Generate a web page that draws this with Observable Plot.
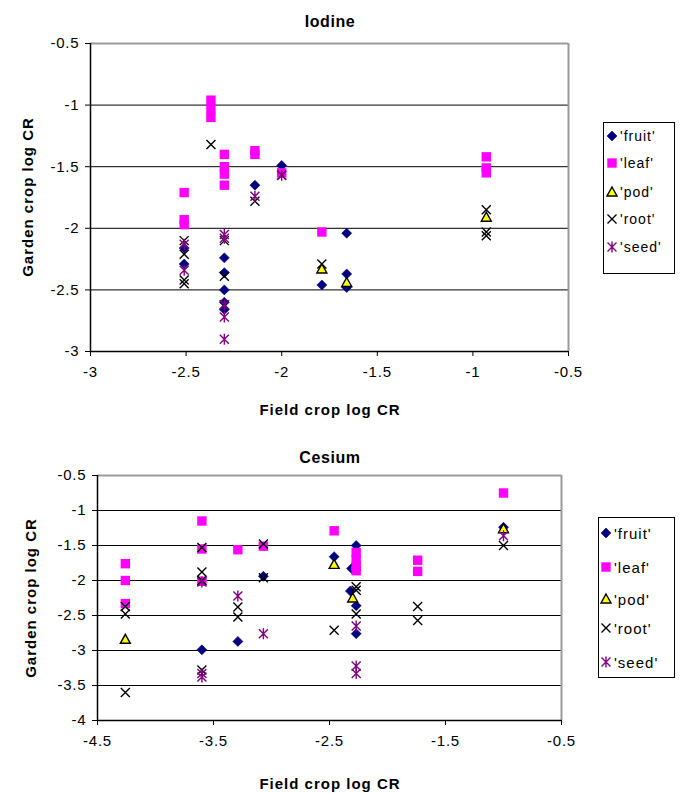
<!DOCTYPE html>
<html><head><meta charset="utf-8">
<script src="https://cdn.jsdelivr.net/npm/d3@7"></script>
<script src="https://cdn.jsdelivr.net/npm/@observablehq/plot@0.6"></script>
<style>
body{margin:0;background:#fff;font-family:"Liberation Sans",Arial,sans-serif;color:#000;}
#root{position:relative;width:681px;height:793px;overflow:hidden;background:#fff;}
.abs{position:absolute;white-space:nowrap;}
.ctr{transform:translate(-50%,-50%);}
.title{font-weight:bold;font-size:16px;letter-spacing:0.6px;}
.xlab{font-weight:bold;font-size:15px;letter-spacing:1px;}
.ylab{font-weight:bold;font-size:15px;letter-spacing:1px;transform:translate(-50%,-50%) rotate(-90deg);}
.legend{border:1px solid #000;background:#fff;}
.legend svg{display:block;}
#root svg.plot text{letter-spacing:0.8px;}
</style></head><body><div id="root"></div>
<script>
const seriesNames = ["'fruit'", "'leaf'", "'pod'", "'root'", "'seed'"];

// Iodine: [field crop log CR, garden crop log CR]
const iodineFruit = [[-2.51,-2.16],[-2.51,-2.29],[-2.30,-2.24],[-2.30,-2.36],[-2.30,-2.50],[-2.30,-2.60],[-2.30,-2.66],[-2.14,-1.65],[-2.00,-1.49],[-1.79,-2.46],[-1.66,-2.04],[-1.66,-2.37],[-1.66,-2.48]];
const iodineLeaf = [[-2.51,-1.71],[-2.51,-1.93],[-2.51,-1.97],[-2.37,-0.96],[-2.37,-1.03],[-2.37,-1.10],[-2.30,-1.40],[-2.30,-1.50],[-2.30,-1.56],[-2.30,-1.65],[-2.14,-1.37],[-2.14,-1.40],[-2.00,-1.55],[-1.79,-2.03],[-0.93,-1.42],[-0.93,-1.51],[-0.93,-1.55]];
const iodinePod = [[-1.79,-2.33],[-1.66,-2.44],[-0.93,-1.91]];
const iodineRoot = [[-2.51,-2.10],[-2.51,-2.21],[-2.51,-2.42],[-2.51,-2.45],[-2.37,-1.32],[-2.30,-2.10],[-2.30,-2.39],[-2.30,-2.62],[-2.14,-1.78],[-2.00,-1.57],[-1.79,-2.29],[-0.93,-1.85],[-0.93,-2.03],[-0.93,-2.06]];
const iodineSeed = [[-2.51,-2.13],[-2.51,-2.34],[-2.30,-2.05],[-2.30,-2.08],[-2.30,-2.62],[-2.30,-2.72],[-2.30,-2.90],[-2.14,-1.74],[-2.00,-1.57]];

// Cesium
const cesiumFruit = [[-3.60,-2.99],[-3.29,-2.87],[-3.07,-1.94],[-2.46,-1.66],[-2.27,-1.50],[-2.31,-1.83],[-2.32,-2.15],[-2.27,-2.36],[-2.27,-2.76],[-1.00,-1.24]];
const cesiumLeaf = [[-4.26,-1.76],[-4.26,-2.00],[-4.26,-2.33],[-3.60,-1.15],[-3.60,-1.55],[-3.60,-2.01],[-3.29,-1.56],[-3.07,-1.51],[-2.46,-1.29],[-2.27,-1.60],[-2.27,-1.70],[-2.27,-1.80],[-2.27,-1.86],[-1.74,-1.71],[-1.74,-1.87],[-1.00,-0.75]];
const cesiumPod = [[-4.26,-2.84],[-2.46,-1.77],[-2.30,-2.25],[-1.00,-1.26]];
const cesiumRoot = [[-4.26,-2.37],[-4.26,-2.48],[-4.26,-3.60],[-3.60,-1.53],[-3.60,-1.88],[-3.60,-2.00],[-3.60,-3.28],[-3.29,-2.38],[-3.29,-2.52],[-3.07,-1.48],[-3.07,-1.96],[-2.46,-2.71],[-2.27,-2.09],[-2.27,-2.14],[-2.27,-2.48],[-1.74,-2.37],[-1.74,-2.57],[-1.00,-1.50]];
const cesiumSeed = [[-3.60,-2.02],[-3.60,-3.33],[-3.60,-3.38],[-3.29,-2.22],[-3.07,-2.76],[-2.27,-2.65],[-2.27,-3.22],[-2.27,-3.33],[-1.00,-1.36]];

const iodineXTicks = [-3, -2.5, -2, -1.5, -1, -0.5];
const iodineYTicks = [-3, -2.5, -2, -1.5, -1, -0.5];
const cesiumXTicks = [-4.5, -3.5, -2.5, -1.5, -0.5];
const cesiumYTicks = [-4, -3.5, -3, -2.5, -2, -1.5, -1, -0.5];

// marker shapes (Excel-like)
const symDiamond = {draw(c){c.moveTo(0,-5);c.lineTo(5,0);c.lineTo(0,5);c.lineTo(-5,0);c.closePath();}};
const symSquare = {draw(c){c.moveTo(-4.7,-4.7);c.lineTo(4.7,-4.7);c.lineTo(4.7,4.7);c.lineTo(-4.7,4.7);c.closePath();}};
const symTri = {draw(c){c.moveTo(0,-5);c.lineTo(5,4);c.lineTo(-5,4);c.closePath();}};
const symX = {draw(c){c.moveTo(-4.5,-4.5);c.lineTo(4.5,4.5);c.moveTo(4.5,-4.5);c.lineTo(-4.5,4.5);}};
const symStar = {draw(c){c.moveTo(-4.5,-4.5);c.lineTo(4.5,4.5);c.moveTo(4.5,-4.5);c.lineTo(-4.5,4.5);c.moveTo(0,-5.5);c.lineTo(0,5.5);}};

const styles = [
  {symbol: symDiamond, fill: "#000080", stroke: "#000080", strokeWidth: 0.6},
  {symbol: symSquare, fill: "#FF00FF", stroke: "none", strokeWidth: 0},
  {symbol: symTri, fill: "#FFFF00", stroke: "#000000", strokeWidth: 1.4},
  {symbol: symX, fill: "none", stroke: "#000000", strokeWidth: 1.4},
  {symbol: symStar, fill: "none", stroke: "#800080", strokeWidth: 1.4}
];

const fmt = d => String(d);

function makeChart(cfg) {
  const [x0, x1] = cfg.xDomain, [y0, y1] = cfg.yDomain;
  const inner = cfg.yTicks.filter(t => t !== y0 && t !== y1);
  const marks = [
    Plot.gridY(inner, {stroke: "#000", strokeOpacity: 1, strokeWidth: 1}),
    Plot.ruleY([y1], {stroke: "#9a9a9a", strokeWidth: 2}),
    Plot.ruleX([x1], {stroke: "#9a9a9a", strokeWidth: 2}),
    Plot.ruleX([x0], {stroke: "#000", strokeWidth: 1.5}),
    Plot.ruleY([y0], {stroke: "#000", strokeWidth: 1.5}),
    Plot.axisX(cfg.xTicks, {tickSize: 5, tickPadding: 10, tickFormat: fmt, label: null, fontSize: 15}),
    Plot.axisY(cfg.yTicks, {tickSize: 5, tickPadding: 6, tickFormat: fmt, label: null, fontSize: 15})
  ];
  cfg.series.forEach((data, i) => {
    const s = styles[i];
    marks.push(Plot.dot(data, {x: d => d[0], y: d => d[1], symbol: s.symbol, fill: s.fill, stroke: s.stroke, strokeWidth: s.strokeWidth, r: 5}));
  });
  const svg = Plot.plot({
    width: 681, height: cfg.height,
    marginLeft: cfg.mLeft, marginRight: cfg.mRight, marginTop: cfg.mTop, marginBottom: cfg.mBottom,
    x: {domain: cfg.xDomain, label: null},
    y: {domain: cfg.yDomain, label: null},
    style: {fontFamily: "'Liberation Sans', Arial, sans-serif", fontSize: "15px", color: "#000", background: "transparent", overflow: "visible"},
    marks
  });
  svg.classList.add("plot");
  return svg;
}

const root = document.getElementById("root");
function place(el, top, left) { el.style.position = "absolute"; el.style.top = top + "px"; el.style.left = left + "px"; root.appendChild(el); }
function label(text, cls, x, y) {
  const d = document.createElement("div");
  d.className = "abs " + cls + (cls === "ylab" ? "" : " ctr");
  d.textContent = text; d.style.left = x + "px"; d.style.top = y + "px";
  root.appendChild(d);
}
function legendSymbol(i) {
  const s = styles[i];
  const ns = "http://www.w3.org/2000/svg";
  const svg = document.createElementNS(ns, "svg");
  svg.setAttribute("width", 14); svg.setAttribute("height", 14);
  svg.setAttribute("viewBox", "-7 -7 14 14");
  const p = document.createElementNS(ns, "path");
  const path = d3.path(); s.symbol.draw(path, 0);
  p.setAttribute("d", path.toString());
  p.setAttribute("fill", s.fill); p.setAttribute("stroke", s.stroke);
  p.setAttribute("stroke-width", s.strokeWidth);
  svg.appendChild(p);
  return svg;
}
function legend(left, top, w, h, ys, symX, textX, fontSize) {
  const box = document.createElement("div");
  box.className = "abs legend";
  box.style.left = left + "px"; box.style.top = top + "px";
  box.style.width = w + "px"; box.style.height = h + "px";
  seriesNames.forEach((name, i) => {
    const sym = legendSymbol(i);
    sym.style.position = "absolute"; sym.style.left = (symX - left - 8) + "px"; sym.style.top = (ys[i] - top - 8) + "px";
    box.appendChild(sym);
    const t = document.createElement("div");
    t.className = "abs"; t.textContent = name;
    t.style.left = (textX - left + 1) + "px"; t.style.top = (ys[i] - top - 1) + "px";
    t.style.transform = "translateY(-50%)"; t.style.fontSize = fontSize + "px"; t.style.letterSpacing = "1px";
    box.appendChild(t);
  });
  root.appendChild(box);
}

// Iodine chart
place(makeChart({
  xDomain: [-3, -0.5], yDomain: [-3, -0.5], xTicks: iodineXTicks, yTicks: iodineYTicks,
  height: 420, mLeft: 90, mRight: 113, mTop: 43, mBottom: 69,
  series: [iodineFruit, iodineLeaf, iodinePod, iodineRoot, iodineSeed]
}), 0, 0);
label("Iodine", "title", 330, 22);
label("Field crop log CR", "xlab", 330, 409);
label("Garden crop log CR", "ylab", 27, 197);
legend(603, 122, 70, 150, [136, 163, 192, 219, 247], 612, 618, 14);

// Cesium chart
place(makeChart({
  xDomain: [-4.5, -0.5], yDomain: [-4, -0.5], xTicks: cesiumXTicks, yTicks: cesiumYTicks,
  height: 363, mLeft: 97, mRight: 120, mTop: 45, mBottom: 73,
  series: [cesiumFruit, cesiumLeaf, cesiumPod, cesiumRoot, cesiumSeed]
}), 430, 0);
label("Cesium", "title", 330, 458);
label("Field crop log CR", "xlab", 330, 783);
label("Garden crop log CR", "ylab", 30, 598);
legend(598, 517, 75, 159, [533, 567, 599, 628, 662], 606, 612, 15);
</script>
</body></html>
